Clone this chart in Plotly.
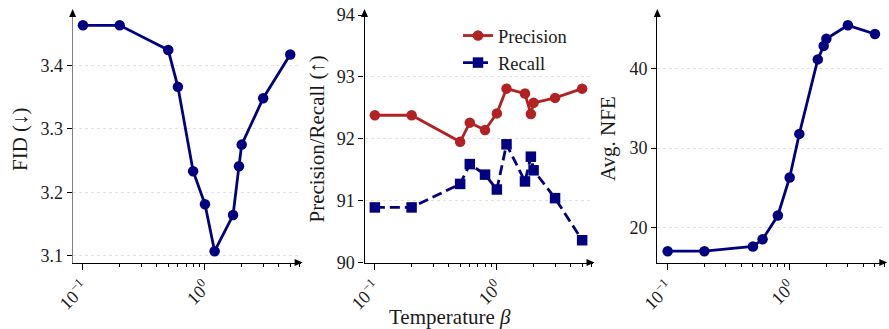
import numpy as np
import plotly.graph_objects as go

# ---------------- data ----------------
temperature = [0.1, 0.2, 0.5, 0.6, 0.8, 1.0, 1.2, 1.7, 1.9, 2.0, 3.0, 5.0]
fid = [3.463, 3.463, 3.424, 3.366, 3.233, 3.181, 3.107, 3.164, 3.241, 3.275, 3.348, 3.417]
precision = [92.38, 92.38, 91.95, 92.26, 92.14, 92.41, 92.81, 92.73, 92.40, 92.58, 92.66, 92.81]
recall = [90.89, 90.89, 91.27, 91.59, 91.42, 91.18, 91.91, 91.31, 91.71, 91.49, 91.04, 90.36]
nfe = [17.0, 17.0, 17.6, 18.5, 21.5, 26.3, 31.8, 41.2, 42.9, 43.8, 45.5, 44.4]

x_tickvals = [0.1, 1.0]
x_ticktext = ["10<sup>−1</sup>", "10<sup>0</sup>"]
x_minor = [0.2, 0.3, 0.4, 0.5, 0.6, 0.7, 0.8, 0.9, 2, 3, 4, 5, 6]
fid_ticks = [3.1, 3.2, 3.3, 3.4]
pr_ticks = [90, 91, 92, 93, 94]
nfe_ticks = [20, 30, 40]

# ---------------- style ----------------
W, H = 889, 329
NAVY = "#000080"
RED = "#B22222"
FONT = "Liberation Serif"
FS_TICK = 18
FS_LABEL = 21
FS_LEG = 18.5
TXT = "#1a1a1a"


def padded(vals, frac=0.05):
    lo, hi = min(vals), max(vals)
    d = (hi - lo) * frac
    return [lo - d, hi + d]


lx = np.log10(temperature)
xr = padded(lx)

# panel pixel domains
panels_px = [(72.6, 300.6), (364.5, 592.5), (657.3, 885.3)]
top_px, bot_px = 14, 262.5
ydom = [(H - bot_px) / H, (H - top_px) / H]

fig = go.Figure()

LW = 2.8
MS = 10.5
fig.add_trace(go.Scatter(x=temperature, y=fid, mode="lines+markers",
                         line=dict(color=NAVY, width=LW), marker=dict(size=MS, color=NAVY),
                         showlegend=False, xaxis="x", yaxis="y", cliponaxis=False))
fig.add_trace(go.Scatter(x=temperature, y=precision, mode="lines+markers", name="Precision",
                         line=dict(color=RED, width=LW), marker=dict(size=MS, color=RED, symbol="circle"),
                         xaxis="x2", yaxis="y2", cliponaxis=False))
fig.add_trace(go.Scatter(x=temperature, y=recall, mode="lines+markers", name="Recall",
                         line=dict(color=NAVY, width=LW, dash="10px,5px"),
                         marker=dict(size=MS, color=NAVY, symbol="square"),
                         xaxis="x2", yaxis="y2", cliponaxis=False))
fig.add_trace(go.Scatter(x=temperature, y=nfe, mode="lines+markers",
                         line=dict(color=NAVY, width=LW), marker=dict(size=MS, color=NAVY),
                         showlegend=False, xaxis="x3", yaxis="y3", cliponaxis=False))

tickfont = dict(family=FONT, size=FS_TICK, color=TXT)


def xaxis(i):
    a, b = panels_px[i]
    return dict(type="log", range=xr, domain=[a / W, b / W], anchor="y" if i == 0 else f"y{i+1}",
                tickmode="array", tickvals=x_tickvals, ticktext=x_ticktext, tickangle=-45,
                ticks="outside", ticklen=6, tickwidth=1, tickcolor="black",
                minor=dict(tickmode="array", tickvals=x_minor, ticks="outside", ticklen=3,
                           tickwidth=1, tickcolor="black", showgrid=False),
                showline=True, linecolor="black", linewidth=1.2, showgrid=False, zeroline=False,
                tickfont=tickfont, automargin=False)


def yaxis(i, rng, ticks, linecolor="black"):
    return dict(range=rng, domain=ydom, anchor="x" if i == 0 else f"x{i+1}",
                tickmode="array", tickvals=ticks, ticks="outside", ticklen=5, tickwidth=1,
                tickcolor="black", showline=True, linecolor=linecolor, linewidth=1.2,
                showgrid=True, gridcolor="#e2e2e2", gridwidth=1, griddash="dot",
                zeroline=False, tickfont=tickfont, automargin=False)


fid_r = padded(fid)
nfe_r = padded(nfe)
pr_r = [90, 94 + 1 / 62]

fig.update_layout(
    width=W, height=H, margin=dict(l=0, r=0, t=0, b=0, autoexpand=False),
    paper_bgcolor="white", plot_bgcolor="white",
    font=dict(family=FONT, size=FS_TICK, color=TXT),
    xaxis=xaxis(0), xaxis2=xaxis(1), xaxis3=xaxis(2),
    yaxis=yaxis(0, fid_r, fid_ticks, linecolor="#808080"),
    yaxis2=yaxis(1, pr_r, pr_ticks),
    yaxis3=yaxis(2, nfe_r, nfe_ticks),
    legend=dict(x=458 / W, y=1 - 17 / H, xanchor="left", yanchor="top",
                bgcolor="rgba(0,0,0,0)", font=dict(family=FONT, size=FS_LEG, color=TXT),
                tracegroupgap=0),
)


def px2paper(px, py):
    return px / W, 1 - py / H


titles = [("FID (↓)", 20, 139), ("Precision/Recall (↑)", 316.5, 139), ("Avg. NFE", 608, 139)]
for t, px, py in titles:
    x, y = px2paper(px, py)
    fig.add_annotation(text=t, x=x, y=y, xref="paper", yref="paper", showarrow=False,
                       textangle=-90, xanchor="center", yanchor="middle",
                       font=dict(family=FONT, size=FS_LABEL, color=TXT))
x, y = px2paper(450, 317)
fig.add_annotation(text="Temperature <i>β</i>", x=x, y=y, xref="paper", yref="paper",
                   showarrow=False, xanchor="center", yanchor="middle",
                   font=dict(family=FONT, size=FS_LABEL, color=TXT))


def tri(points):
    pts = [px2paper(px, py) for px, py in points]
    return "M " + " L ".join(f"{a},{b}" for a, b in pts) + " Z"


for a, b in panels_px:
    tx = b + 2
    fig.add_shape(type="path", xref="paper", yref="paper",
                  path=tri([(tx, bot_px), (tx - 8, bot_px - 3.5), (tx - 8, bot_px + 3.5)]),
                  fillcolor="black", line=dict(width=0))
    ty = top_px - 5
    fig.add_shape(type="path", xref="paper", yref="paper",
                  path=tri([(a, ty), (a - 3.5, ty + 8), (a + 3.5, ty + 8)]),
                  fillcolor="black", line=dict(width=0))

fig.write_html("out.html")
